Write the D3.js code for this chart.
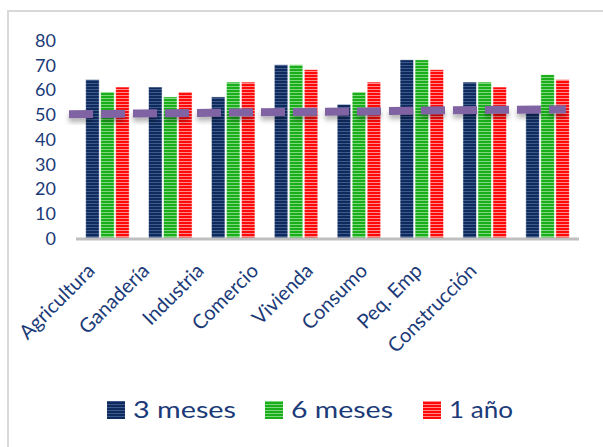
<!DOCTYPE html>
<html><head><meta charset="utf-8">
<script src="https://cdn.jsdelivr.net/npm/d3@7"></script>
<style>body{margin:0;background:#fff}svg{display:block}</style>
</head><body>
<script>
const categories = ["Agricultura","Ganadería","Industria","Comercio","Vivienda","Consumo","Peq. Emp","Construcción"];
const seriesNames = ["3 meses","6 meses","1 año"];
const meses3 = [64, 61, 57, 70, 54, 72, 63, 53];
const meses6 = [59, 57, 63, 70, 59, 72, 63, 66];
const anio1 = [61, 59, 63, 68, 63, 68, 61, 64];
const lineValues = [50, 50.3, 50.6, 50.9, 51.1, 51.5, 51.8, 52];
const yTicks = [0,10,20,30,40,50,60,70,80];

const W = 603, H = 447;
const textColor = "#1B3A78";
const font = "Lato, 'Open Sans', sans-serif";
const colors = [
  {base:"#0F2B5E", light:"#3E5A8C"},
  {base:"#1AAE1A", light:"#7ED67E"},
  {base:"#FF0A0A", light:"#FF8A8A"}
];
const svg = d3.select("body").append("svg").attr("width", W).attr("height", H);
const defs = svg.append("defs");
colors.forEach((c,i)=>{
  const p = defs.append("pattern").attr("id","pat"+i).attr("patternUnits","userSpaceOnUse")
    .attr("width",6).attr("height",3);
  p.append("rect").attr("width",6).attr("height",3).attr("fill",c.base);
  p.append("rect").attr("y",2).attr("width",6).attr("height",1).attr("fill",c.light);
});
const f = defs.append("filter").attr("id","sh").attr("x","-20%").attr("y","-100%").attr("width","140%").attr("height","400%");
f.append("feDropShadow").attr("dx",0).attr("dy",4).attr("stdDeviation",2.5).attr("flood-color","#000").attr("flood-opacity",0.3);

// frame
svg.append("path").attr("d","M8,447 V11 H603").attr("fill","none").attr("stroke","#D9D9D9").attr("stroke-width",2);

const x0 = d3.scaleBand().domain(categories).range([76, 579]);
const x1 = d3.scaleBand().domain(seriesNames).range([9.7, x0.bandwidth()-9.7]).paddingInner(0.1);
const y = d3.scaleLinear().domain([0,80]).range([238, 40]);

// y axis labels
const yAxis = svg.append("g").attr("transform","translate(56,0)")
  .call(d3.axisLeft(y).tickValues(yTicks).tickSize(0).tickPadding(0));
yAxis.select(".domain").remove();
yAxis.selectAll("text").attr("fill",textColor).style("font-family",font).style("font-size","18px").attr("dy","0.35em");

const series = [meses3, meses6, anio1];
const g = svg.append("g");
categories.forEach((c,ci)=>{
  series.forEach((s,si)=>{
    g.append("rect")
      .attr("x", x0(c)+x1(seriesNames[si]))
      .attr("y", y(s[ci]))
      .attr("width", x1.bandwidth())
      .attr("height", y(0)-y(s[ci]))
      .attr("fill","url(#pat"+si+")")
      .attr("stroke","#ffffff").attr("stroke-opacity",0.6).attr("stroke-width",0.8);
  });
});

// baseline
svg.append("line").attr("x1",76).attr("x2",579).attr("y1",y(0)+1).attr("y2",y(0)+1)
  .attr("stroke","#BFBFBF").attr("stroke-width",3);

// x labels (rotated, placed like the original)
const xlab = d3.scalePoint().domain(categories).range([96, 478]);
svg.append("g").selectAll("text").data(categories).join("text")
  .attr("transform", d=>"translate("+xlab(d)+",272) rotate(-45)")
  .attr("text-anchor","end")
  .attr("fill",textColor).style("font-family",font).style("font-size","20px")
  .text(d=>d);

// line series
const xl = d3.scalePoint().domain(categories).range([69, 566]);
const line = d3.line().x((d,i)=>xl(categories[i])).y(d=>y(d));
svg.append("path").datum(lineValues).attr("d",line)
  .attr("fill","none").attr("stroke","#8064A2").attr("stroke-width",8)
  .attr("stroke-dasharray","24,8").attr("filter","url(#sh)");

// legend
const leg = svg.append("g");
const legX = [107, 265, 423];
const legW = [103, 102, 64];
seriesNames.forEach((n,i)=>{
  leg.append("rect").attr("x",legX[i]).attr("y",401).attr("width",18).attr("height",18).attr("fill","url(#pat"+i+")");
  leg.append("text").attr("x",legX[i]+26).attr("y",410).attr("dy","0.36em")
    .attr("fill",textColor).style("font-family",font).style("font-size","23px")
    .attr("textLength",legW[i]).attr("lengthAdjust","spacingAndGlyphs")
    .text(n);
});
</script>
</body></html>
